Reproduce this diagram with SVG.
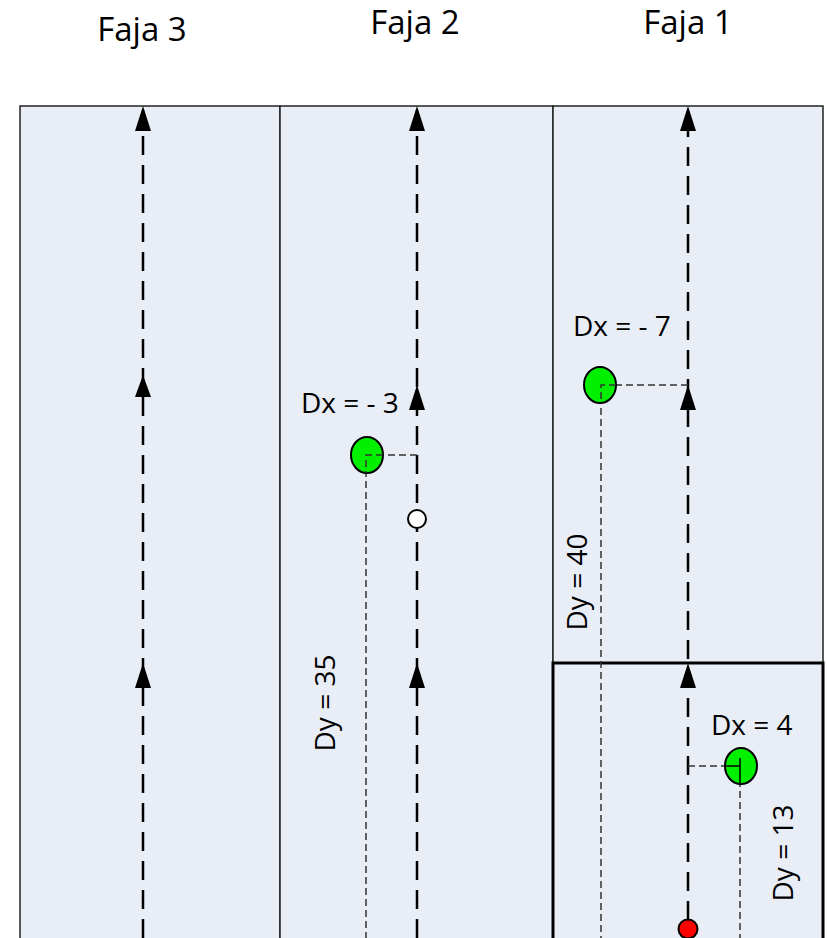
<svg xmlns="http://www.w3.org/2000/svg" width="827" height="938" viewBox="0 0 827 938">
<style>
text{font-family:"Open Sans","Liberation Sans",sans-serif;fill:#000}
.lbl{font-size:28px}
.title{font-size:33px;text-anchor:middle}
.panel{fill:#E9EEF6;stroke:#222;stroke-width:1.5}
.box{fill:none;stroke:#000;stroke-width:3}
.center{stroke:#000;stroke-width:2.5;stroke-dasharray:19 10;fill:none}
.guide{stroke:#333;stroke-width:1.5;stroke-dasharray:7 4;fill:none}
.arrow{fill:#000}
.pt{fill:#00F000;stroke:#000;stroke-width:2}
</style>
<rect width="827" height="938" fill="#fff"/>
<g id="titles">
<text class="title" x="142" y="41">Faja 3</text>
<text class="title" x="415" y="34">Faja 2</text>
<text class="title" x="688" y="34">Faja 1</text>
</g>
<g id="faja3"><rect class="panel" x="20" y="106" width="260" height="840"/></g>
<g id="faja2"><rect class="panel" x="280" y="106" width="273" height="840"/></g>
<g id="faja1"><rect class="panel" x="553" y="106" width="270" height="840"/></g>
<g id="box"><rect class="box" x="553" y="663" width="270" height="290"/></g>
<g id="connectors">
<line class="center" x1="143" y1="938" x2="143" y2="110"/>
<line class="center" x1="417" y1="938" x2="417" y2="110"/>
<line class="center" x1="688" y1="920" x2="688" y2="110"/>
<path class="arrow" d="M143 106 L135 131 L151 131 Z M143 375 L135 397 L151 397 Z M143 663 L135 688 L151 688 Z"/>
<path class="arrow" d="M417 106 L409 131 L425 131 Z M417 385 L409 410 L425 410 Z M417 663 L409 688 L425 688 Z"/>
<path class="arrow" d="M688 106 L680 131 L696 131 Z M688 385 L680 410 L696 410 Z M688 663 L680 688 L696 688 Z"/>
<path class="guide" d="M417 455 H366 V938"/>
<path class="guide" d="M688 385 H601 V938"/>
<path class="guide" d="M688 766 H740 M740 758 V938"/>
</g>
<g id="p2"><ellipse class="pt" cx="367" cy="455" rx="16" ry="18"/><path class="guide" d="M383 455 H366 V473"/></g>
<g id="p1"><ellipse class="pt" cx="600" cy="385" rx="16" ry="18"/><path class="guide" d="M616 385 H601 V403"/></g>
<g id="p1b"><ellipse class="pt" cx="741" cy="766" rx="16" ry="18"/><path d="M725 766 H740 M740 758 V784" stroke="#000" stroke-width="1.5" fill="none"/></g>
<g id="white"><circle cx="417" cy="519" r="9" fill="#fff" stroke="#000" stroke-width="2"/></g>
<g id="red"><circle cx="688" cy="929" r="9.5" fill="#F00" stroke="#000" stroke-width="2"/></g>
<g id="labels">
<text class="lbl" x="301" y="413">Dx = - 3</text>
<text class="lbl" x="573" y="336">Dx = - 7</text>
<text class="lbl" x="711" y="735">Dx = 4</text>
<text class="lbl" text-anchor="middle" transform="translate(335 703) rotate(-90)">Dy = 35</text>
<text class="lbl" text-anchor="middle" transform="translate(587 582) rotate(-90)">Dy = 40</text>
<text class="lbl" text-anchor="middle" transform="translate(793 853) rotate(-90)">Dy = 13</text>
</g>
</svg>
